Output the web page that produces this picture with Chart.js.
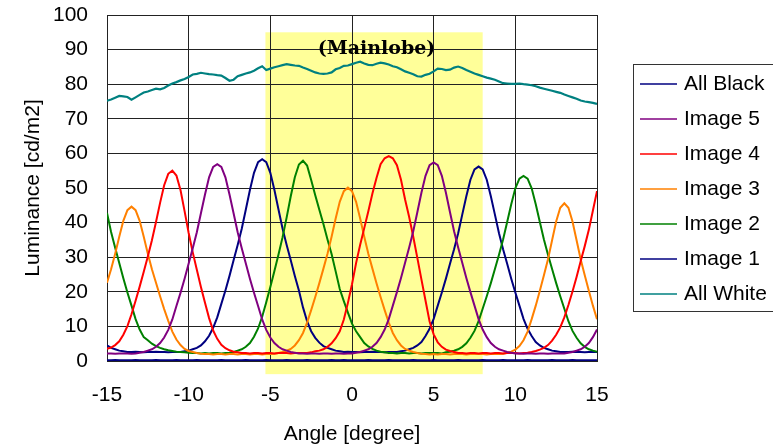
<!DOCTYPE html>
<html lang="en">
<head>
<meta charset="UTF-8">
<title>Luminance vs angle</title>
<script src="https://cdn.jsdelivr.net/npm/chart.js"></script>
<style>
  html, body { margin: 0; padding: 0; background: #fff; }
  canvas { display: block; }
</style>
</head>
<body>
<canvas id="myChart" width="773" height="448"></canvas>

<script>
  // measuring angles [degree], one row per degree
  var angles = [
    -15, -14.75, -14.5, -14.25,  -14, -13.75, -13.5, -13.25,
    -13, -12.75, -12.5, -12.25,  -12, -11.75, -11.5, -11.25,
    -11, -10.75, -10.5, -10.25,  -10, -9.75, -9.5, -9.25,
    -9, -8.75, -8.5, -8.25,      -8, -7.75, -7.5, -7.25,
    -7, -6.75, -6.5, -6.25,      -6, -5.75, -5.5, -5.25,
    -5, -4.75, -4.5, -4.25,      -4, -3.75, -3.5, -3.25,
    -3, -2.75, -2.5, -2.25,      -2, -1.75, -1.5, -1.25,
    -1, -0.75, -0.5, -0.25,      0, 0.25, 0.5, 0.75,
    1, 1.25, 1.5, 1.75,          2, 2.25, 2.5, 2.75,
    3, 3.25, 3.5, 3.75,          4, 4.25, 4.5, 4.75,
    5, 5.25, 5.5, 5.75,          6, 6.25, 6.5, 6.75,
    7, 7.25, 7.5, 7.75,          8, 8.25, 8.5, 8.75,
    9, 9.25, 9.5, 9.75,          10, 10.25, 10.5, 10.75,
    11, 11.25, 11.5, 11.75,      12, 12.25, 12.5, 12.75,
    13, 13.25, 13.5, 13.75,      14, 14.25, 14.5, 14.75,
    15
  ];

  var allBlack = [
    0.2, 0.2, 0.3, 0.2,  0.2, 0.2, 0.2, 0.3,
    0.2, 0.2, 0.2, 0.2,  0.3, 0.2, 0.2, 0.2,
    0.2, 0.3, 0.2, 0.2,  0.2, 0.2, 0.3, 0.2,
    0.2, 0.2, 0.2, 0.2,  0.3, 0.2, 0.2, 0.2,
    0.2, 0.2, 0.3, 0.2,  0.2, 0.2, 0.2, 0.3,
    0.2, 0.2, 0.2, 0.2,  0.3, 0.2, 0.2, 0.2,
    0.2, 0.3, 0.2, 0.2,  0.2, 0.2, 0.2, 0.3,
    0.2, 0.2, 0.3, 0.2,  0.2, 0.2, 0.2, 0.2,
    0.3, 0.2, 0.2, 0.2,  0.2, 0.3, 0.2, 0.2,
    0.2, 0.2, 0.2, 0.3,  0.2, 0.2, 0.2, 0.2,
    0.3, 0.2, 0.2, 0.2,  0.2, 0.2, 0.3, 0.2,
    0.2, 0.2, 0.2, 0.2,  0.3, 0.2, 0.2, 0.2,
    0.2, 0.3, 0.2, 0.2,  0.2, 0.2, 0.2, 0.3,
    0.2, 0.2, 0.2, 0.2,  0.2, 0.3, 0.2, 0.2,
    0.2, 0.2, 0.3, 0.2,  0.2, 0.2, 0.2, 0.2,
    0.2
  ];

  var image5 = [
    2.2, 2.2, 2.1, 2.2,      2.2, 2.2, 2.1, 2.2,
    2.4, 2.6, 3.0, 3.4,      4.1, 5.2, 6.8, 9.0,
    12.0, 15.9, 19.7, 23.8,  28.2, 32.6, 37.2, 42.7,
    48.1, 53.1, 56.1, 56.9,  56.1, 53.1, 48.1, 42.7,
    37.2, 32.6, 28.2, 23.8,  19.7, 15.9, 12.0, 9.0,
    6.8, 5.2, 4.1, 3.4,      3.0, 2.6, 2.4, 2.2,
    2.2, 2.1, 2.2, 2.2,      2.1, 2.2, 2.2, 2.1,
    2.2, 2.2, 2.1, 2.2,      2.2, 2.4, 2.6, 3.0,
    3.4, 4.1, 5.2, 6.9,      9.1, 12.1, 16.0, 19.9,
    24.0, 28.4, 32.8, 37.5,  43.0, 48.6, 53.5, 56.6,
    57.4, 56.6, 53.5, 48.6,  43.0, 37.5, 32.8, 28.4,
    24.0, 19.9, 16.0, 12.1,  9.1, 6.9, 5.2, 4.1,
    3.4, 3.0, 2.6, 2.4,      2.2, 2.2, 2.1, 2.2,
    2.2, 2.1, 2.2, 2.2,      2.1, 2.2, 2.2, 2.2,
    2.2, 2.4, 2.6, 3.0,      3.4, 4.1, 5.2, 6.9,
    9.1
  ];

  var image4 = [
    3.5, 3.9, 4.6, 5.7,      7.6, 10.1, 13.5, 17.4,
    21.5, 25.8, 30.2, 34.9,  40.2, 45.7, 50.8, 54.1,
    55.0, 53.6, 49.4, 43.3,  37.0, 31.4, 26.4, 21.4,
    16.8, 12.4, 8.8, 6.4,    4.7, 3.7, 3.1, 2.7,
    2.5, 2.3, 2.3, 2.2,      2.3, 2.3, 2.2, 2.3,
    2.3, 2.2, 2.3, 2.3,      2.3, 2.2, 2.3, 2.3,
    2.3, 2.3, 2.5, 2.8,      3.0, 3.4, 4.1, 5.1,
    6.6, 8.6, 12.0, 16.8,    22.2, 28.3, 33.6, 38.4,
    43.3, 48.4, 52.9, 56.9,  58.6, 59.2, 58.6, 56.6,
    52.4, 46.7, 41.6, 35.9,  29.8, 23.6, 17.5, 11.4,
    7.7, 5.4, 4.1, 3.3,      2.9, 2.6, 2.3, 2.3,
    2.2, 2.3, 2.3, 2.2,      2.3, 2.3, 2.2, 2.3,
    2.3, 2.2, 2.3, 2.3,      2.3, 2.2, 2.3, 2.4,
    2.6, 2.9, 3.3, 3.8,      4.6, 5.9, 7.6, 9.7,
    12.6, 16.2, 20.1, 24.3,  28.8, 33.2, 37.9, 43.5,
    49.1
  ];

  var image3 = [
    22.6, 26.5, 31.0, 35.9,  40.5, 43.6, 44.6, 43.6,
    40.5, 35.9, 31.0, 26.5,  22.6, 18.7, 15.0, 11.6,
    8.5, 6.2, 4.6, 3.5,      2.9, 2.6, 2.3, 2.1,
    2.0, 2.0, 1.9, 2.0,      2.0, 1.9, 2.0, 2.0,
    1.9, 2.0, 2.0, 1.9,      2.0, 2.0, 1.9, 2.0,
    2.0, 2.1, 2.3, 2.6,      3.0, 3.5, 4.5, 6.0,
    8.1, 11.1, 14.7, 18.5,   22.5, 26.7, 31.0, 35.9,
    41.2, 46.0, 49.1, 50.1,  49.1, 46.0, 41.2, 35.9,
    31.0, 26.7, 22.5, 18.5,  14.7, 11.1, 8.1, 6.0,
    4.5, 3.5, 3.0, 2.6,      2.3, 2.1, 2.0, 1.9,
    2.0, 1.9, 2.0, 2.0,      1.9, 2.0, 2.0, 2.0,
    1.9, 2.0, 2.0, 2.0,      2.0, 1.9, 2.0, 2.0,
    2.0, 2.1, 2.4, 2.7,      3.3, 4.3, 6.0, 8.5,
    12.1, 16.0, 20.3, 24.8,  29.4, 34.9, 40.3, 44.3,
    45.6, 44.3, 40.3, 34.9,  29.4, 24.8, 20.3, 16.0,
    12.1
  ];

  var image2 = [
    42.8, 37.3, 32.7, 28.3,  23.9, 19.8, 16.0, 12.1,
    9.1, 6.9, 6.0, 5.0,      4.3, 3.8, 3.4, 3.1,
    2.9, 2.7, 2.6, 2.5,      2.4, 2.3, 2.3, 2.2,
    2.3, 2.2, 2.3, 2.3,      2.2, 2.3, 2.4, 2.6,
    3.0, 3.4, 4.1, 5.2,      7.0, 9.4, 12.8, 17.0,
    21.4, 26.0, 30.8, 35.8,  41.5, 47.6, 53.1, 56.8,
    57.9, 56.5, 52.3, 47.9,  43.7, 39.6, 35.1, 30.9,
    25.9, 20.8, 17.3, 14.0,  10.8, 8.6, 6.9, 5.2,
    4.2, 3.5, 3.0, 2.7,      2.5, 2.3, 2.3, 2.2,
    2.3, 2.3, 2.2, 2.3,      2.3, 2.2, 2.3, 2.3,
    2.3, 2.3, 2.2, 2.5,      2.7, 3.0, 3.4, 4.1,
    5.1, 6.7, 8.7, 11.5,     15.1, 18.7, 22.5, 26.6,
    30.7, 35.1, 40.2, 45.3,  49.9, 52.7, 53.5, 52.7,
    49.9, 45.3, 40.2, 35.1,  30.7, 26.6, 22.5, 18.7,
    15.1, 11.5, 8.7, 6.7,    5.1, 4.1, 3.4, 3.0,
    2.7
  ];

  var image1 = [
    4.5, 3.8, 3.4, 3.0,      2.8, 2.6, 2.6, 2.7,
    2.6, 2.5, 2.6, 2.6,      2.7, 2.6, 2.6, 2.5,
    2.6, 2.6, 2.6, 2.8,      3.0, 3.4, 3.8, 4.5,
    5.7, 7.3, 9.6, 12.6,     16.5, 20.4, 24.6, 29.1,
    33.5, 38.2, 43.8, 49.4,  54.4, 57.5, 58.3, 57.5,
    54.4, 49.4, 43.8, 38.2,  33.5, 29.1, 24.6, 20.4,
    15.5, 11.5, 8.6, 6.7,    5.3, 4.3, 3.8, 3.4,
    3.0, 2.8, 2.6, 2.7,      2.6, 2.6, 2.5, 2.6,
    2.6, 2.7, 2.6, 2.6,      2.5, 2.6, 2.6, 2.6,
    2.8, 3.0, 3.4, 3.8,      4.5, 5.5, 7.2, 9.3,
    12.2, 16.0, 19.8, 23.8,  28.1, 32.3, 36.9, 42.3,
    47.6, 52.4, 55.4, 56.2,  55.4, 52.4, 47.6, 42.3,
    36.9, 32.3, 28.1, 23.8,  19.8, 16.0, 12.2, 9.3,
    7.2, 5.5, 4.5, 3.8,      3.4, 3.0, 2.8, 2.6,
    2.6, 2.6, 2.7, 2.6,      2.6, 2.5, 2.6, 2.6,
    2.6
  ];

  var allWhite = [
    75.2, 75.6, 76.1, 76.6,  76.5, 76.3, 75.5, 76.2,
    76.9, 77.6, 77.9, 78.3,  78.7, 78.5, 78.9, 79.6,
    80.2, 80.6, 81.1, 81.5,  82.1, 82.8, 83.0, 83.3,
    83.1, 82.9, 82.8, 82.6,  82.5, 81.8, 81.0, 81.3,
    82.3, 82.7, 83.1, 83.4,  83.9, 84.6, 85.2, 84.1,
    84.5, 84.9, 85.2, 85.5,  85.8, 85.6, 85.4, 85.3,
    84.8, 84.4, 83.9, 83.4,  83.1, 83.0, 83.1, 83.4,
    84.3, 84.7, 85.3, 85.4,  85.8, 86.2, 86.5, 86.0,
    85.6, 85.5, 85.9, 86.2,  86.0, 85.7, 85.2, 84.9,
    84.3, 83.7, 83.3, 82.9,  82.3, 82.2, 82.7, 83.0,
    83.7, 84.5, 84.4, 84.1,  84.2, 84.8, 85.1, 84.7,
    84.1, 83.6, 83.1, 82.7,  82.3, 81.9, 81.6, 81.3,
    80.8, 80.3, 80.2, 80.1,  80.1, 80.2, 80.0, 79.9,
    79.7, 79.4, 79.0, 78.7,  78.4, 78.1, 77.8, 77.5,
    77.0, 76.6, 76.2, 75.8,  75.3, 75.0, 74.8, 74.6,
    74.3
  ];

  // mainlobe region (shaded)
  var mainlobeFrom = -5.3;
  var mainlobeTo = 8.0;
  var mainlobeTop = 95;
  var mainlobeBottom = -3.8;
  var mainlobeLabel = "(Mainlobe)";

  var fonte = '"Liberation Sans", Arial, sans-serif';
  Chart.defaults.font.family = fonte;
  Chart.defaults.font.size = 21;
  Chart.defaults.color = "#000";

  function pontos(valores) {
    return angles.map(function (a, i) {
      return { x: a, y: valores[i] };
    });
  }

  // yellow band under the grid + label
  var mainlobePlugin = {
    id: "mainlobe",
    beforeDraw: function (chart) {
      var sx = chart.scales.x, sy = chart.scales.y, ctx = chart.ctx;
      var x0 = sx.getPixelForValue(mainlobeFrom);
      var x1 = sx.getPixelForValue(mainlobeTo);
      var y0 = sy.getPixelForValue(mainlobeTop);
      var y1 = sy.getPixelForValue(mainlobeBottom);
      ctx.save();
      ctx.fillStyle = "#FFFF99";
      ctx.fillRect(x0, y0, x1 - x0, y1 - y0);
      ctx.restore();
    },
    afterDraw: function (chart) {
      var sx = chart.scales.x, sy = chart.scales.y, ctx = chart.ctx;
      ctx.save();
      ctx.font = 'bold 19px "DejaVu Serif", serif';
      ctx.fillStyle = "#000";
      ctx.textAlign = "center";
      ctx.textBaseline = "middle";
      ctx.fillText(mainlobeLabel, sx.getPixelForValue(1.5), sy.getPixelForValue(90.2));
      ctx.restore();
    }
  };

  // legend in a box on the right
  var legendaPlugin = {
    id: "legendaCaixa",
    afterDraw: function (chart) {
      var ctx = chart.ctx;
      ctx.save();
      ctx.strokeStyle = "#333";
      ctx.lineWidth = 1;
      ctx.strokeRect(633.5, 64.5, 160, 247);
      ctx.font = "21px " + fonte;
      ctx.fillStyle = "#000";
      ctx.textBaseline = "middle";
      chart.data.datasets.forEach(function (ds, i) {
        var yy = 84 + i * 35;
        ctx.strokeStyle = ds.borderColor;
        ctx.lineWidth = 1.5;
        ctx.beginPath();
        ctx.moveTo(640, yy);
        ctx.lineTo(677, yy);
        ctx.stroke();
        ctx.fillText(ds.label, 684, yy);
      });
      ctx.restore();
    }
  };

  function serie(label, valores, cor, largura) {
    return {
      label: label,
      data: pontos(valores),
      borderColor: cor,
      backgroundColor: cor,
      borderWidth: largura,
      pointRadius: 0,
      fill: false,
      tension: 0
    };
  }

  const ctx = document.getElementById("myChart");
  new Chart(ctx, {
    type: "line",
    data: {
      datasets: [
        serie("All Black", allBlack, "#000080", 2),
        serie("Image 5", image5, "#800080", 2),
        serie("Image 4", image4, "#FF0000", 2),
        serie("Image 3", image3, "#FF8000", 2),
        serie("Image 2", image2, "#008000", 2),
        serie("Image 1", image1, "#000080", 2),
        serie("All White", allWhite, "#008080", 2.2)
      ]
    },
    options: {
      responsive: false,
      animation: false,
      devicePixelRatio: 1,
      events: [],
      layout: { padding: { left: 0, top: 15, right: 176, bottom: 0 } },
      plugins: {
        legend: { display: false },
        tooltip: { enabled: false }
      },
      scales: {
        x: {
          type: "linear",
          min: -15,
          max: 15,
          ticks: { stepSize: 5, padding: 0, color: "#000" },
          // invisible tick marks keep the labels away from the axis
          grid: { color: "#222", tickLength: 22, tickColor: "rgba(0,0,0,0)" },
          border: { color: "#222" },
          title: {
            display: true,
            text: "Angle [degree]",
            color: "#000",
            padding: { top: 0, bottom: 1 }
          },
          afterFit: function (s) { s.height = 87; }
        },
        y: {
          min: 0,
          max: 100,
          ticks: { stepSize: 10, padding: 0, color: "#000" },
          grid: { color: "#222", tickLength: 19, tickColor: "rgba(0,0,0,0)" },
          border: { color: "#222" },
          title: {
            display: true,
            text: "Luminance [cd/m2]",
            color: "#000",
            padding: { top: 21, bottom: 0 }
          },
          afterFit: function (s) { s.width = 107; }
        }
      }
    },
    plugins: [mainlobePlugin, legendaPlugin]
  });
</script>
</body>
</html>
